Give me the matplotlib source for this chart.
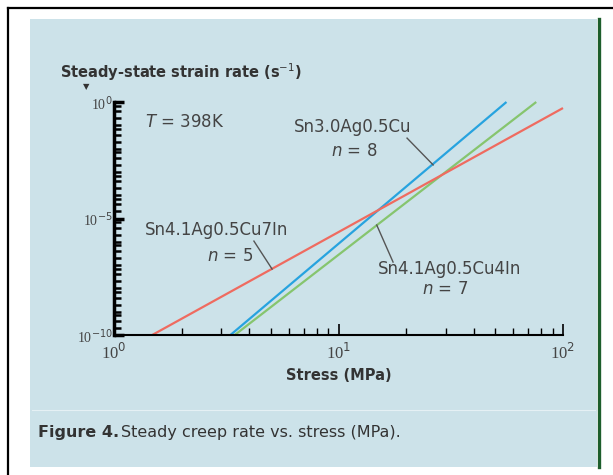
import matplotlib.pyplot as plt
from matplotlib.lines import Line2D
from matplotlib.patches import Rectangle
from matplotlib.ticker import LogLocator, NullFormatter, FixedLocator

# line end points: stress (MPa), strain rate (1/s)
alloys = ["Sn3.0Ag0.5Cu", "Sn4.1Ag0.5Cu4In", "Sn4.1Ag0.5Cu7In"]
n_values = [8, 7, 5]
stress_ends = [[3.3, 56.0], [3.45, 76.0], [1.48, 100.0]]
rate_ends = [[1e-10, 1e0], [1e-10, 1e0], [1e-10, 0.55]]
colors = ["#27a3df", "#86c56e", "#ef6b60"]

# label anchors (stress, log10 rate): name, "n =", leader start, leader end
name_pos = [(11.6, -1.07), (31.4, -7.17), (2.85, -5.49)]
n_pos = [(11.8, -2.10), (29.8, -8.03), (3.29, -6.61)]
leader_from = [(20.2, -1.55), (14.8, -5.28), (4.2, -5.97)]
leader_to = [(26.4, -2.70), (17.5, -6.87), (5.06, -7.17)]

x_ticks = [1, 10, 100]
x_labels = ["10$^0$", "10$^1$", "10$^2$"]
y_ticks = [1e-10, 1e-5, 1e0]
y_labels = ["10$^{-10}$", "10$^{-5}$", "10$^0$"]

W, H = 613, 475
fig = plt.figure(figsize=(W / 100, H / 100), dpi=100)
fig.patch.set_facecolor("white")


def fx(px):
    return px / W


def fy(py):
    return 1 - py / H


# background panel and frame
fig.patches.append(Rectangle((fx(30), fy(467)), fx(597) - fx(30), fy(19) - fy(467),
                             transform=fig.transFigure, facecolor="#cce2e9",
                             edgecolor="none", zorder=-10))
fig.lines.append(Line2D([fx(8), 1], [fy(8), fy(8)], transform=fig.transFigure,
                        color="black", lw=1.6, zorder=-5))
fig.lines.append(Line2D([fx(8), fx(8)], [fy(8), 0], transform=fig.transFigure,
                        color="black", lw=1.6, zorder=-5))
fig.lines.append(Line2D([fx(599), fx(599)], [fy(19), fy(467)], transform=fig.transFigure,
                        color="#1d5e2c", lw=2.4, zorder=-5))
fig.lines.append(Line2D([fx(32), fx(595)], [fy(410), fy(410)], transform=fig.transFigure,
                        color="white", lw=0.8, alpha=0.5, zorder=-5))

ax = fig.add_axes([fx(114), fy(335), fx(563) - fx(114), fy(102) - fy(335)])
ax.set_facecolor("none")
ax.set_xscale("log")
ax.set_yscale("log")
ax.set_xlim(1, 100)
ax.set_ylim(1e-10, 1e0)

for xs, ys, c in zip(stress_ends, rate_ends, colors):
    ax.plot(xs, ys, color=c, lw=1.6, solid_capstyle="butt", clip_on=False)

for s in ["top", "right"]:
    ax.spines[s].set_visible(False)
ax.spines["left"].set_linewidth(2.5)
ax.spines["bottom"].set_linewidth(1.5)

ax.xaxis.set_major_locator(FixedLocator(x_ticks))
ax.set_xticklabels(x_labels)
ax.xaxis.set_minor_locator(LogLocator(base=10, subs=range(2, 10)))
ax.xaxis.set_minor_formatter(NullFormatter())
ax.yaxis.set_major_locator(FixedLocator(y_ticks))
ax.set_yticklabels(y_labels)
ax.yaxis.set_minor_locator(LogLocator(base=10, subs=[1.0, 2.0, 4.0, 7.0], numticks=20))
ax.yaxis.set_minor_formatter(NullFormatter())

ax.tick_params(which="both", direction="in", colors="black", labelcolor="#444444")
ax.tick_params(axis="x", which="major", length=8, width=1.2, labelsize=12, pad=6)
ax.tick_params(axis="x", which="minor", length=5, width=1.0)
ax.tick_params(axis="y", which="major", length=7, width=2.5, labelsize=10, pad=1)
ax.tick_params(axis="y", which="minor", length=5, width=1.8)
for lab in ax.get_xticklabels() + ax.get_yticklabels():
    lab.set_family("Liberation Serif")

ax.set_xlabel("Stress (MPa)", fontsize=10.5, fontweight="bold", color="#333333", labelpad=3)

fig.text(fx(60), fy(72), "Steady-state strain rate (s$^{-1}$)", fontsize=10.5,
         fontweight="bold", color="#333333", va="center", ha="left")
fig.text(fx(86), fy(87), "\u25bc", fontsize=6, color="#333333", va="center", ha="center")

txt = dict(fontsize=12, color="#444444", ha="center", va="center")
fig.text(fx(145), fy(122), "$T$ = 398K", fontsize=12, color="#444444", va="center", ha="left")

# labels with leader lines
for name, nv, p, q, a, b in zip(alloys, n_values, name_pos, n_pos, leader_from, leader_to):
    ax.text(p[0], 10 ** p[1], name, **txt)
    ax.text(q[0], 10 ** q[1], "$n$ = %d" % nv, **txt)
    ax.plot([a[0], b[0]], [10 ** a[1], 10 ** b[1]], color="#555555", lw=1.0)

fig.text(fx(38), fy(433), "Figure 4.", fontsize=11.5, fontweight="bold", color="#333333",
         va="center", ha="left")
fig.text(fx(121), fy(433), "Steady creep rate vs. stress (MPa).", fontsize=11.5,
         color="#333333", va="center", ha="left")

fig.savefig("out.png", dpi=100)
